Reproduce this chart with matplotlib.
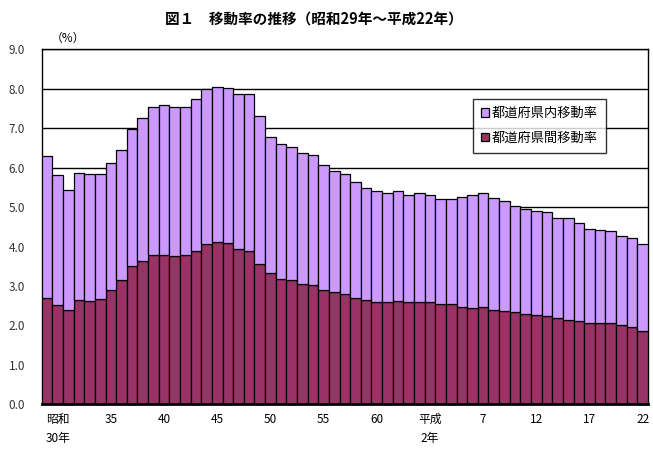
import numpy as np
import matplotlib
matplotlib.use("Agg")
from matplotlib import pyplot as plt
from matplotlib.ticker import MultipleLocator, FixedLocator

plt.rcParams['font.family'] = ['Noto Sans CJK JP', 'DejaVu Sans']

#Data----------------------------------------------------------------------
# years: Showa 29 (1954) .. Heisei 22 (2010)
years = list(range(1954, 2011))

# total moving rate (%)
total_rate = [6.29, 5.81, 5.43, 5.86, 5.83, 5.83, 6.11, 6.44, 6.97, 7.25,
              7.53, 7.58, 7.55, 7.53, 7.73, 7.99, 8.04, 8.01, 7.88, 7.88,
              7.30, 6.79, 6.59, 6.52, 6.36, 6.31, 6.08, 5.91, 5.83, 5.63,
              5.48, 5.40, 5.35, 5.40, 5.30, 5.35, 5.32, 5.20, 5.20, 5.25,
              5.30, 5.35, 5.22, 5.15, 5.02, 4.94, 4.89, 4.87, 4.72, 4.72,
              4.59, 4.44, 4.41, 4.39, 4.26, 4.21, 4.06]

# inter-prefecture moving rate (%)
inter_rate = [2.69, 2.51, 2.38, 2.64, 2.61, 2.66, 2.89, 3.14, 3.50, 3.63,
              3.78, 3.78, 3.75, 3.78, 3.90, 4.06, 4.11, 4.08, 3.93, 3.90,
              3.57, 3.32, 3.17, 3.14, 3.04, 3.02, 2.89, 2.84, 2.79, 2.69,
              2.64, 2.59, 2.59, 2.61, 2.59, 2.59, 2.59, 2.54, 2.54, 2.48,
              2.43, 2.46, 2.38, 2.36, 2.33, 2.28, 2.26, 2.23, 2.18, 2.15,
              2.10, 2.05, 2.05, 2.05, 2.00, 1.95, 1.85]

tick_years = [1955, 1960, 1965, 1970, 1975, 1980, 1985, 1990, 1995, 2000, 2005, 2010]
tick_labels = ["昭和\n30年", "35", "40", "45", "50", "55", "60", "平成\n2年",
               "7", "12", "17", "22"]

inter = np.array(inter_rate)
intra = np.array(total_rate) - inter   # within-prefecture part

#Plot----------------------------------------------------------------------
fig = plt.figure(figsize=(6.53, 4.53), dpi=100)
ax = fig.add_axes([0.0639, 0.1075, 0.9284, 0.7835])

ax.bar(years, inter, width=1.0, color='#993366', edgecolor='black', linewidth=0.9,
       label='都道府県間移動率', zorder=3)
ax.bar(years, intra, width=1.0, bottom=inter, color='#CC99FF', edgecolor='black',
       linewidth=0.9, label='都道府県内移動率', zorder=3)

ax.set_xlim(years[0] - 0.5, years[-1] + 0.5)
ax.set_ylim(0, 9.0)
ax.yaxis.set_major_locator(MultipleLocator(1.0))
ax.set_yticklabels([f"{v:.1f}" for v in ax.get_yticks()])
ax.grid(axis='y', color='black', linewidth=1.0, zorder=0)

ax.xaxis.set_major_locator(FixedLocator(tick_years))
ax.set_xticklabels(tick_labels, fontsize=8.5, linespacing=1.6, va='top')
ax.xaxis.set_minor_locator(FixedLocator([y + 0.5 for y in range(1954, 2011, 5)]))
ax.tick_params(axis='x', which='major', length=0, pad=6)
ax.tick_params(axis='x', which='minor', direction='in', length=3)
ax.tick_params(axis='y', length=0, pad=12, labelsize=8.5, labelcolor='#333333')

for s in ax.spines.values():
    s.set_color('black')
    s.set_linewidth(1.0)
ax.spines['bottom'].set_linewidth(2.0)
ax.spines['bottom'].set_zorder(5)

handles, labels = ax.get_legend_handles_labels()
leg = ax.legend(handles[::-1], labels[::-1], loc='upper left', bbox_to_anchor=(0.712, 0.86),
                fontsize=9.5, frameon=True, fancybox=False, edgecolor='black',
                handlelength=0.6, handleheight=0.6, handletextpad=0.2,
                borderpad=0.6, labelspacing=0.9, borderaxespad=0)
leg.get_frame().set_linewidth(1.0)
leg.set_zorder(6)

fig.text(0.48, 0.96, "図１　移動率の推移（昭和29年～平成22年）", ha='center', va='center',
         fontsize=10.5, fontweight='bold')
fig.text(0.078, 0.915, "（%）", ha='left', va='center', fontsize=8.5)

plt.savefig("out.png", dpi=100)
